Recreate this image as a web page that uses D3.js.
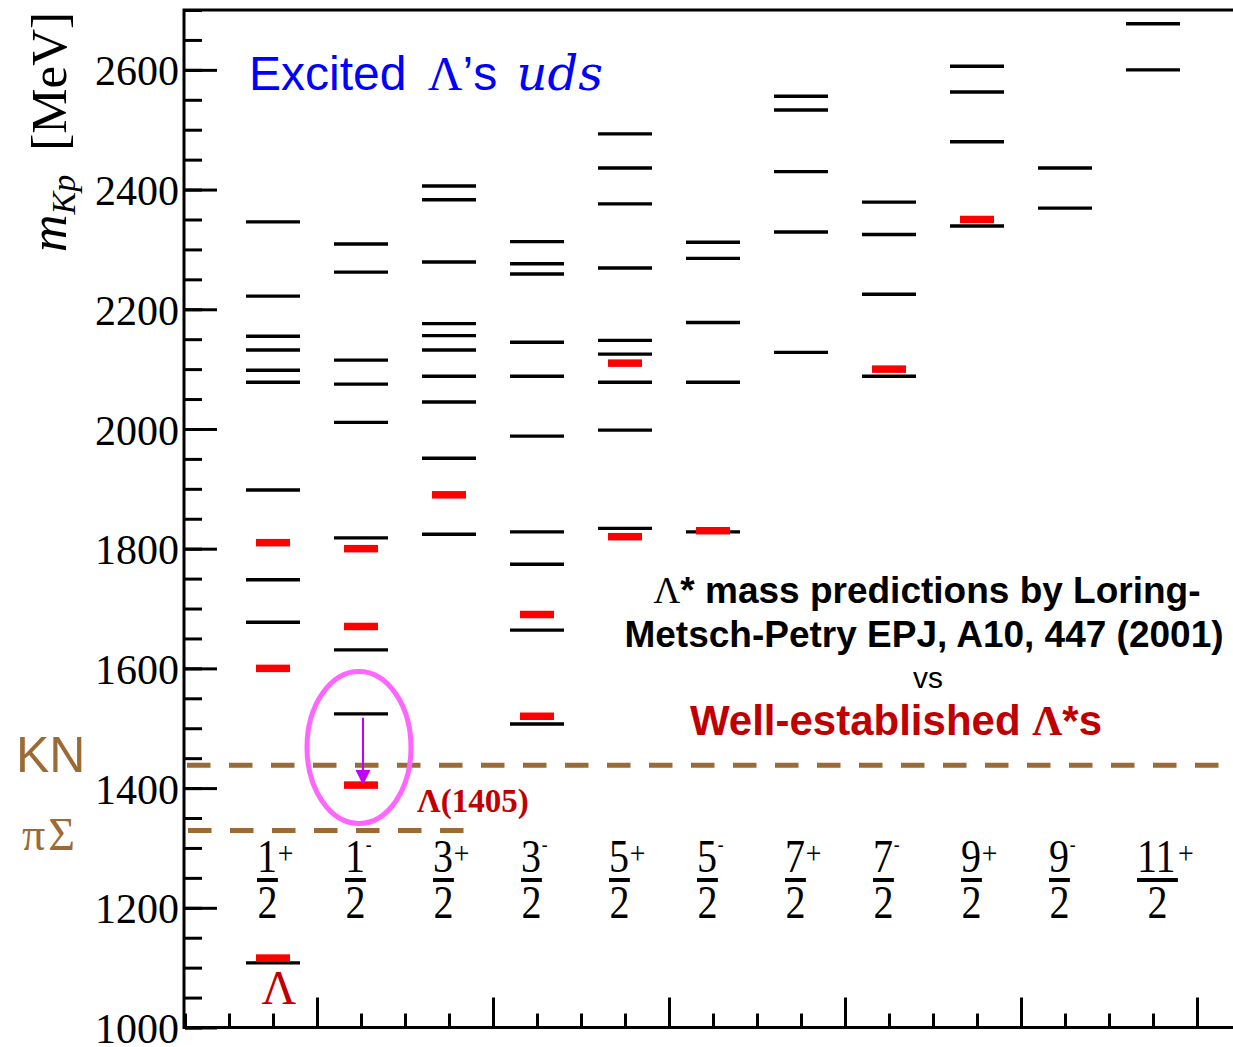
<!DOCTYPE html>
<html lang="en">
<head>
<meta charset="utf-8">
<title>Excited Lambda spectrum</title>
<script src="https://d3js.org/d3.v7.min.js"></script>
<style>
  body { margin: 0; background: #fff; }
  svg { display: block; background: #fff; }
  .serif { font-family: 'Liberation Serif', 'Times New Roman', serif; }
  .sans { font-family: 'Liberation Sans', Arial, sans-serif; }
</style>
</head>
<body>
<svg id="chart" width="1233" height="1047"></svg>
<script>
// J^P columns
var numerators = [1, 1, 3, 3, 5, 5, 7, 7, 9, 9, 11];
var parities = ["+", "-", "+", "-", "+", "-", "+", "-", "+", "-", "+"];

// Loring-Metsch-Petry predictions (MeV), one list per column
var predicted = [
  [1108, 1677, 1748, 1898, 2078, 2098, 2132, 2155, 2222, 2346],
  [1524, 1631, 1818, 2011, 2075, 2115, 2262, 2309],
  [1824, 1951, 2045, 2088, 2132, 2156, 2176, 2279, 2383, 2406],
  [1507, 1664, 1774, 1828, 1988, 2088, 2145, 2259, 2276, 2313],
  [1834, 1998, 2078, 2125, 2148, 2269, 2376, 2436, 2493],
  [1828, 2078, 2178, 2285, 2312],
  [2128, 2329, 2430, 2533, 2556],
  [2088, 2225, 2325, 2379],
  [2339, 2480, 2563, 2606],
  [2369, 2436],
  [2600, 2677]
];

// well-established states (MeV)
var measured = [
  [1116, 1600, 1810],
  [1405, 1670, 1800],
  [1890],
  [1520, 1690],
  [1820, 2110],
  [1830],
  [],
  [2100],
  [2350],
  [],
  []
];

var thresholdKN = 1438;
var thresholdPiSigma = 1329;
var yTicksMajor = [1000, 1200, 1400, 1600, 1800, 2000, 2200, 2400, 2600];

var svg = d3.select("#chart");

var x = d3.scaleLinear().domain([0.25, 6.25]).range([185, 1241]);
var y = d3.scaleLinear().domain([1000, 2700]).range([1027.5, 10]);
function colX(i) { return x(0.75 + 0.5 * i); }

// y axis, minor + major ticks (pointing inward)
svg.append("g")
  .attr("transform", "translate(" + x(0.25) + ",0)")
  .call(d3.axisLeft(y).tickValues(d3.range(1000, 2701, 50)).tickSize(-17).tickFormat(""))
  .call(function(g) { g.select(".domain").remove(); g.selectAll("line").attr("stroke-width", 3); });

var yAxis = svg.append("g")
  .attr("transform", "translate(" + x(0.25) + ",0)")
  .call(d3.axisLeft(y).tickValues(yTicksMajor).tickSize(-32).tickPadding(6).tickFormat(d3.format("d")))
  .call(function(g) { g.select(".domain").remove(); g.selectAll("line").attr("stroke-width", 3); });
yAxis.selectAll("text")
  .attr("class", "serif")
  .attr("font-size", 42)
  .attr("dy", "0.36em")
  .attr("fill", "#000");

// x axis ticks (no labels)
svg.append("g")
  .attr("transform", "translate(0," + y(1000) + ")")
  .call(d3.axisBottom(x).tickValues(d3.range(0.25, 6.26, 0.25)).tickSize(-14).tickFormat(""))
  .call(function(g) { g.select(".domain").remove(); g.selectAll("line").attr("stroke-width", 3); });
svg.append("g")
  .attr("transform", "translate(0," + y(1000) + ")")
  .call(d3.axisBottom(x).tickValues([1, 2, 3, 4, 5, 6]).tickSize(-30).tickFormat(""))
  .call(function(g) { g.select(".domain").remove(); g.selectAll("line").attr("stroke-width", 3); });

// frame
svg.append("rect")
  .attr("x", x(0.25) - 1).attr("y", y(2700))
  .attr("width", x(6.25) - x(0.25)).attr("height", y(1000) - y(2700))
  .attr("fill", "none").attr("stroke", "#000").attr("stroke-width", 3);

// y axis title
var yt = svg.append("text")
  .attr("class", "serif")
  .attr("transform", "translate(66,252) rotate(-90)")
  .attr("fill", "#000");
yt.append("tspan").attr("font-style", "italic").attr("font-size", 52).text("m");
yt.append("tspan").attr("font-style", "italic").attr("font-size", 34).attr("dy", 9).text("Kp");
yt.append("tspan").attr("font-size", 51).attr("dy", -9).attr("dx", 24).text("[MeV]");

// threshold lines
var brown = "#9c6a35";
svg.append("line")
  .attr("x1", x(0.25) + 2).attr("x2", 1233)
  .attr("y1", y(thresholdKN)).attr("y2", y(thresholdKN))
  .attr("stroke", brown).attr("stroke-width", 5).attr("stroke-dasharray", "23.5,18.5");
svg.append("line")
  .attr("x1", x(0.25) + 3).attr("x2", 465)
  .attr("y1", y(thresholdPiSigma)).attr("y2", y(thresholdPiSigma))
  .attr("stroke", brown).attr("stroke-width", 5).attr("stroke-dasharray", "23.5,18.5");

svg.append("text").attr("class", "sans").attr("x", 16).attr("y", 772)
  .attr("font-size", 50).attr("fill", brown).text("KN");
svg.append("text").attr("class", "serif").attr("x", 22).attr("y", 850)
  .attr("font-size", 46).attr("letter-spacing", 3).attr("fill", brown).text("πΣ");

// predicted levels
var lvlW = 54, barW = 34, barH = 7.5;
predicted.forEach(function(list, i) {
  svg.append("g").selectAll("line")
    .data(list).enter().append("line")
    .attr("x1", colX(i) - lvlW / 2).attr("x2", colX(i) + lvlW / 2)
    .attr("y1", function(d) { return y(d); })
    .attr("y2", function(d) { return y(d); })
    .attr("stroke", "#000").attr("stroke-width", 3.4);
});

// measured states
measured.forEach(function(list, i) {
  svg.append("g").selectAll("rect")
    .data(list).enter().append("rect")
    .attr("x", colX(i) - barW / 2).attr("width", barW)
    .attr("y", function(d) { return y(d) - barH / 2; })
    .attr("height", barH)
    .attr("fill", "#ff0000");
});

// J^P labels
var fs = 46, sx = 0.87;
numerators.forEach(function(n, i) {
  var g = svg.append("g")
    .attr("class", "serif")
    .attr("transform", "translate(" + (colX(i) - 16) + ",0) scale(" + sx + ",1)");
  var w = String(n).length * fs * 0.5;
  g.append("text").attr("x", 0).attr("y", 872).attr("font-size", fs).text(n);
  g.append("text")
    .attr("x", w + 1)
    .attr("y", parities[i] === "+" ? 864 : 851)
    .attr("font-size", parities[i] === "+" ? 32 : 20)
    .text(parities[i]);
  g.append("line").attr("x1", 0).attr("x2", w + 1)
    .attr("y1", 880).attr("y2", 880)
    .attr("stroke", "#000").attr("stroke-width", 4);
  g.append("text").attr("x", w / 2 + 0.5).attr("y", 918)
    .attr("text-anchor", "middle").attr("font-size", fs).text(2);
});

// Lambda ground state label
var darkRed = "#c00000";
svg.append("text").attr("class", "serif")
  .attr("x", colX(0) + 6).attr("y", 1004)
  .attr("text-anchor", "middle").attr("font-size", 48).attr("fill", darkRed)
  .text("Λ");

// Lambda(1405) highlight
var hlCol = 1, hlFrom = predicted[1][0], hlTo = measured[1][0];
svg.append("ellipse")
  .attr("cx", colX(hlCol) - 2).attr("cy", y((hlFrom + hlTo) / 2) - 2)
  .attr("rx", 52).attr("ry", 76)
  .attr("fill", "none").attr("stroke", "#ff66ff").attr("stroke-width", 5);
var ax = colX(hlCol) + 2;
svg.append("line")
  .attr("x1", ax).attr("x2", ax)
  .attr("y1", y(hlFrom) + 4).attr("y2", y(hlTo) - 14)
  .attr("stroke", "#c000ff").attr("stroke-width", 2);
svg.append("path")
  .attr("d", "M" + (ax - 7.5) + "," + (y(hlTo) - 15) + " L" + (ax + 7.5) + "," + (y(hlTo) - 15) + " L" + ax + "," + y(hlTo) + " Z")
  .attr("fill", "#c000ff");
svg.append("text").attr("class", "serif")
  .attr("x", 417).attr("y", 812)
  .attr("font-size", 33).attr("font-weight", "bold").attr("fill", darkRed)
  .text("Λ(1405)");

// title
var title = svg.append("text").attr("x", 249).attr("y", 90).attr("fill", "#0000ff");
title.append("tspan").attr("class", "sans").attr("font-size", 48).text("Excited ");
title.append("tspan").attr("class", "serif").attr("font-size", 48).attr("dx", 8).text("Λ");
title.append("tspan").attr("class", "sans").attr("font-size", 48).text("’s ");
title.append("tspan").attr("font-family", "'DejaVu Serif', serif").attr("font-style", "italic")
  .attr("font-size", 48).attr("dx", 6).text("uds");

// annotation block
var l1 = svg.append("text").attr("class", "sans").attr("x", 927).attr("y", 603)
  .attr("text-anchor", "middle").attr("font-size", 37).attr("font-weight", "bold").attr("fill", "#000");
l1.append("tspan").attr("class", "serif").attr("font-weight", "normal").text("Λ");
l1.append("tspan").text("* mass predictions by Loring-");
svg.append("text").attr("class", "sans").attr("x", 924).attr("y", 647)
  .attr("text-anchor", "middle").attr("font-size", 37).attr("font-weight", "bold").attr("fill", "#000")
  .text("Metsch-Petry EPJ, A10, 447 (2001)");
svg.append("text").attr("class", "sans").attr("x", 928).attr("y", 688)
  .attr("text-anchor", "middle").attr("font-size", 30).attr("fill", "#000")
  .text("vs");
var l4 = svg.append("text").attr("class", "sans").attr("x", 896).attr("y", 735)
  .attr("text-anchor", "middle").attr("font-size", 42).attr("font-weight", "bold").attr("fill", darkRed);
l4.append("tspan").text("Well-established ");
l4.append("tspan").attr("class", "serif").text("Λ");
l4.append("tspan").text("*s");
</script>
</body>
</html>
